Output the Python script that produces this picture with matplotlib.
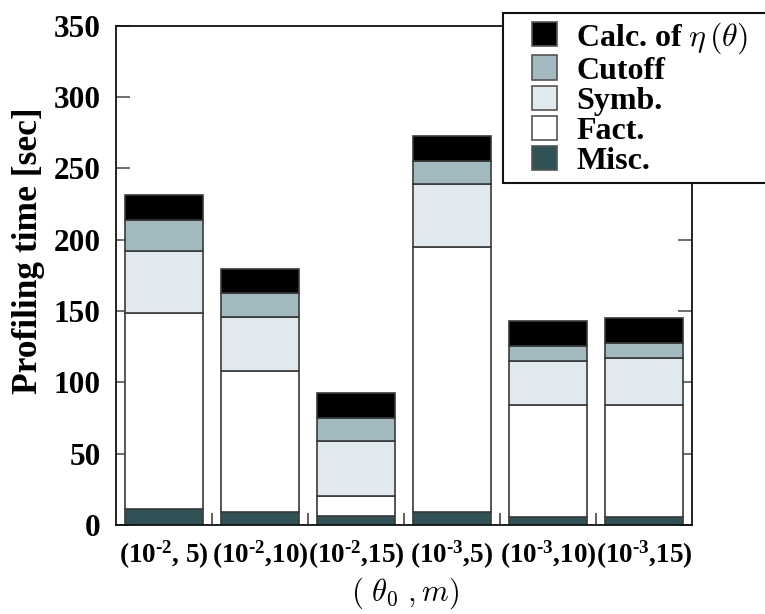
import matplotlib
matplotlib.use("Agg")
import matplotlib.pyplot as plt
import numpy as np
from matplotlib.patches import Rectangle

plt.rcParams['font.family'] = ['Liberation Serif', 'DejaVu Serif']
plt.rcParams['font.weight'] = 'bold'
plt.rcParams['mathtext.fontset'] = 'custom'
plt.rcParams['mathtext.rm'] = 'Liberation Serif:bold'
plt.rcParams['mathtext.it'] = 'Liberation Serif:italic:bold'
plt.rcParams['mathtext.bf'] = 'Liberation Serif:bold'

categories = [r"(10$^{\text{-2}}$, 5)", r"(10$^{\text{-2}}$,10)", r"(10$^{\text{-2}}$,15)",
              r"(10$^{\text{-3}}$,5)", r"(10$^{\text{-3}}$,10)", r"(10$^{\text{-3}}$,15)"]
# cumulative tops
misc   = [11.5, 9.2, 6.0, 8.8, 5.8, 5.8]
fact_top  = [148.5, 107.8, 20.6, 195.2, 84.4, 84.4]
symb_top  = [191.9, 145.9, 58.7, 239.1, 114.7, 116.8]
cut_top   = [213.6, 162.3, 75.0, 255.4, 125.4, 127.7]
calc_top  = [231.0, 179.8, 92.5, 273.0, 142.7, 145.0]

fact = list(np.subtract(fact_top, misc))
symb = list(np.subtract(symb_top, fact_top))
cutoff = list(np.subtract(cut_top, symb_top))
calc = list(np.subtract(calc_top, cut_top))

series = [("Misc.", misc, "#2f5257"),
          ("Fact.", fact, "#ffffff"),
          ("Symb.", symb, "#dfe9ee"),
          ("Cutoff", cutoff, "#a2b9bf"),
          ("Calc. of $\\eta\\,(\\theta)$", calc, "#000000")]

fig = plt.figure(figsize=(7.65, 6.14), dpi=100)
ax = fig.add_axes([116/765, 1-525/614, (692-116)/765, (525-25.7)/614])

x = np.arange(len(categories))
bottom = np.zeros(len(categories))
handles = []
for name, vals, col in series:
    b = ax.bar(x, vals, width=0.81, bottom=bottom, color=col,
               edgecolor="#3a3a3a", linewidth=1.2, label=name, zorder=2)
    handles.append(b)
    bottom = bottom + np.array(vals)

ax.set_xlim(-0.5, 5.5)
ax.set_ylim(0, 350)
ax.set_yticks(np.arange(0, 351, 50))
ax.set_xticks(x)
ax.set_xticklabels(categories, fontsize=19.5, fontweight='bold')
ax.set_xticks(np.arange(0.5, 5.0, 1.0), minor=True)
ax.tick_params(axis='x', which='major', length=0, pad=10)
ax.tick_params(axis='x', which='minor', direction='in', length=9, width=1.2,
               color='#444444', bottom=True, top=False)
ax.tick_params(axis='y', which='major', direction='in', length=10, width=1.2,
               color='#555555', left=True, right=True, labelsize=22.5, pad=11)
for lab in ax.get_yticklabels():
    lab.set_fontweight('bold')
for s in ax.spines.values():
    s.set_linewidth(1.3)
    s.set_color('#111111')

fig.text(29/765, 1-251/614, "Profiling time [sec]", rotation=90,
         ha='center', va='center', fontsize=25.5, fontweight='bold')
fig.text(405/765, 1-593/614, r"$(\ \theta_0\ ,m)$", ha='center', va='center',
         fontsize=22, math_fontfamily='cm')

# legend
box = Rectangle((503/765, 1-183/614), 0.5, (183-12.7)/614, transform=fig.transFigure,
                facecolor='white', edgecolor='#111111', linewidth=1.5, zorder=5)
fig.patches.append(box)
leg = fig.legend(handles[::-1], [s[0] for s in series][::-1],
                 loc='upper left', bbox_to_anchor=(532/765, 1-20/614),
                 frameon=False, fontsize=23, handlelength=0.78, handleheight=0.78,
                 handletextpad=0.6, labelspacing=0.0, borderpad=0, borderaxespad=0)
leg.set_zorder(6)
for t in leg.get_texts():
    t.set_fontweight('bold')
    t.set_math_fontfamily('cm')
for h in leg.legend_handles:
    h.set_edgecolor('#555555')

fig.savefig("out.png", dpi=100)
